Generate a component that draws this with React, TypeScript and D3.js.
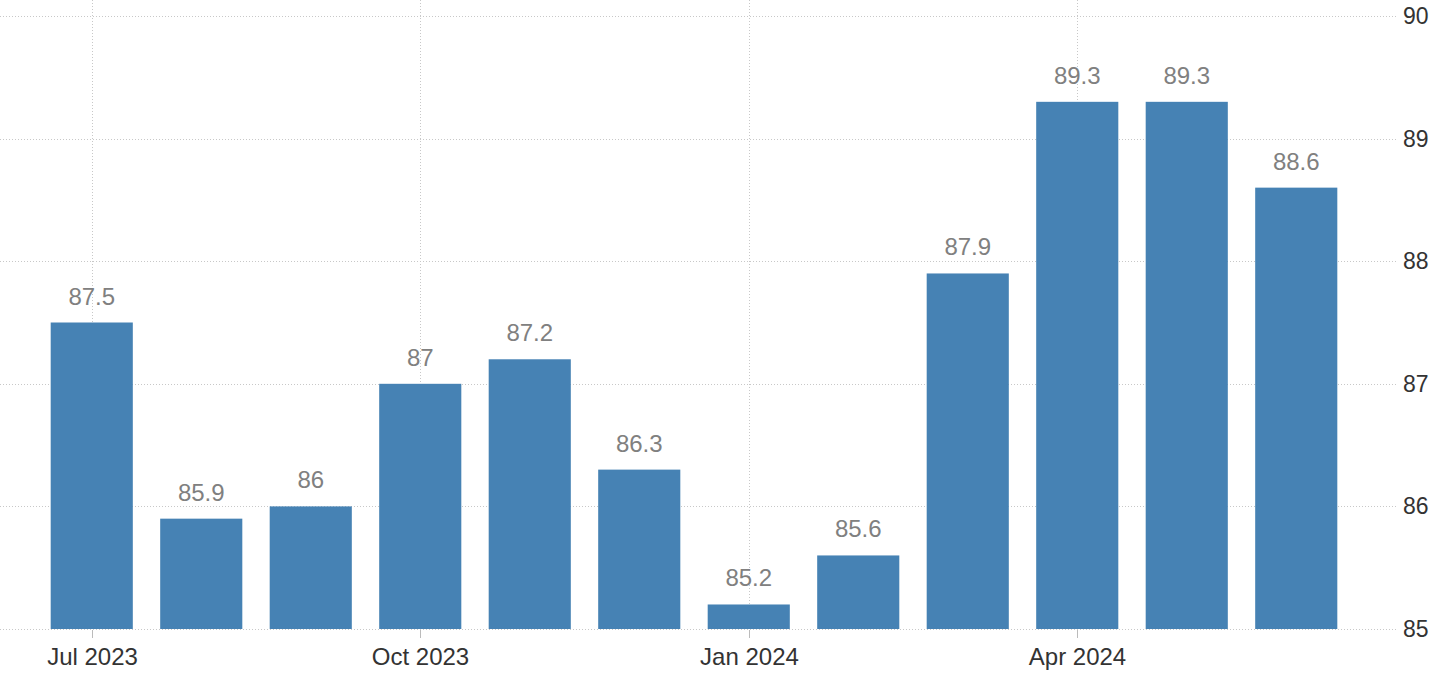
import React from "react";
import * as d3 from "d3";

const months = ["2023-07", "2023-08", "2023-09", "2023-10", "2023-11", "2023-12", "2024-01", "2024-02", "2024-03", "2024-04", "2024-05", "2024-06"];
const values = [87.5, 85.9, 86, 87, 87.2, 86.3, 85.2, 85.6, 87.9, 89.3, 89.3, 88.6];
const xTickMonths = ["2023-07", "2023-10", "2024-01", "2024-04"];
const xTickLabels = ["Jul 2023", "Oct 2023", "Jan 2024", "Apr 2024"];
const yTicks = [85, 86, 87, 88, 89, 90];

const W = 1453;
const H = 678;

export default function App() {
  const x = d3.scaleBand<string>().domain(months).range([37, 1351]).paddingInner(0.25).paddingOuter(0.125);
  const y = d3.scaleLinear().domain([85, 90]).range([629, 16]);
  const bw = x.bandwidth();
  const fmt = (v: number) => d3.format("~g")(v);
  const font = "'Liberation Sans', Arial, sans-serif";
  return (
    <svg width={W} height={H} style={{ position: "absolute", left: 0, top: 0, background: "#fff" }}>
      {yTicks.map((t) => (
        <g key={t}>
          <line x1={0} x2={1398} y1={Math.round(y(t)) + 0.5} y2={Math.round(y(t)) + 0.5} stroke="#c8c8c8" strokeDasharray="1,2" />
          <text x={1403} y={y(t) + 8} fontSize={23} fontFamily={font} fill="#333">{t}</text>
        </g>
      ))}
      {xTickMonths.map((m, i) => {
        const cx = Math.round((x(m) as number) + bw / 2) + 0.5;
        return (
          <g key={m}>
            <line x1={cx} x2={cx} y1={0} y2={y(85)} stroke="#c8c8c8" strokeDasharray="1,2" />
            <line x1={cx} x2={cx} y1={y(85) + 1} y2={y(85) + 9} stroke="#bbb" />
            <text x={cx} y={665} textAnchor="middle" fontSize={24} fontFamily={font} fill="#333">{xTickLabels[i]}</text>
          </g>
        );
      })}
      {months.map((m, i) => (
        <rect key={m} x={x(m)} y={y(values[i])} width={bw} height={y(85) - y(values[i])} fill="#4682b4" />
      ))}
      {months.map((m, i) => (
        <text key={m} x={(x(m) as number) + bw / 2} y={y(values[i]) - 18} textAnchor="middle" fontSize={24} fontFamily={font} fill="#808080">
          {fmt(values[i])}
        </text>
      ))}
    </svg>
  );
}
